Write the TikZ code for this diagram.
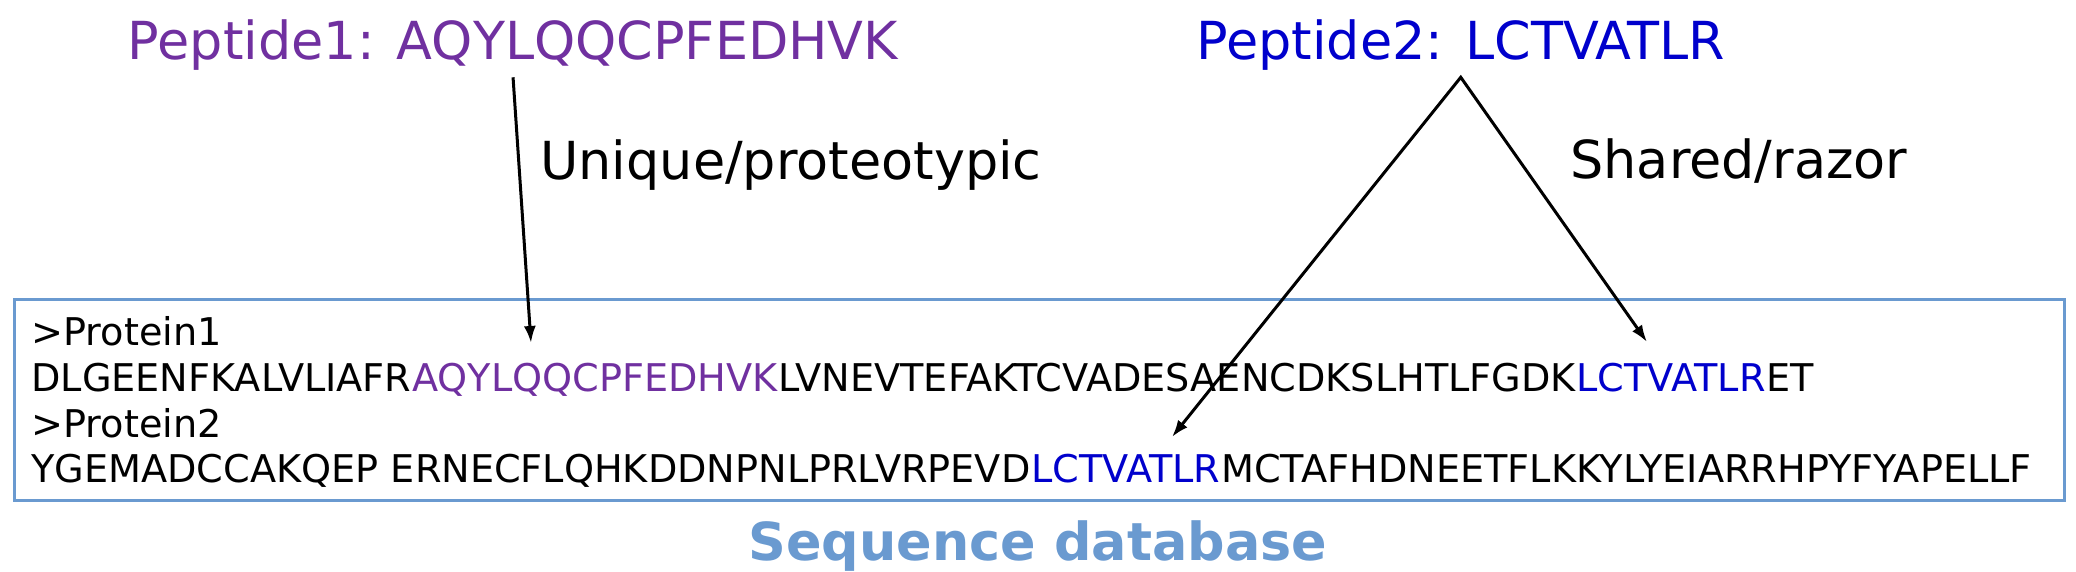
\documentclass[tikz,border=0pt]{standalone}
\usepackage{fontspec}
\setmainfont{DejaVu Sans}
\usetikzlibrary{arrows.meta}
\definecolor{pepone}{HTML}{7030A0}
\definecolor{peptwo}{HTML}{0000CC}
\definecolor{dbblue}{HTML}{6A9AD0}
\begin{document}
\begin{tikzpicture}[x=0.5pt,y=-0.5pt,
  big/.style={inner sep=0pt, anchor=base west, font=\fontsize{26.2pt}{30pt}\selectfont},
  seq/.style={inner sep=0pt, anchor=base west, font=\fontsize{19.1pt}{22pt}\selectfont},
  link/.style={line width=1.5pt, black, line join=miter},
  tip/.tip={Latex[length=8.5pt,width=6pt]}]
\useasboundingbox (0,0) rectangle (2076,572);
% database box
\node[draw=dbblue, line width=1.5pt, minimum width=1025pt, minimum height=100.5pt,
      anchor=north west, inner sep=0pt] (db) at (13,298) {};
\node[font=\bfseries\fontsize{26.2pt}{30pt}\selectfont, text=dbblue, anchor=base, inner sep=0pt]
      (dblabel) at (1038,560) {Sequence database};
% peptide labels
\node[big, text=pepone] (pep1) at (127.5,60) {Peptide1: AQYLQQCPFEDHVK};
\node[big, text=peptwo] (pep2) at (1196,60) {Peptide2: LCTVATLR};
\node[big] (uniq) at (540,180) {Unique/proteotypic};
\node[big] (shared) at (1570,179) {Shared/razor};
% sequences
\node[seq] (l1) at (31,345) {>Protein1};
\node[seq] (l2a) at (31,391) {DLGEENFKALVLIAFR};
\node[seq, text=pepone] (l2b) at (l2a.base east) {AQYLQQCPFEDHVK};
\node[seq] (l2c) at (l2b.base east) {LVNEVTEFAKTCVADESAENCDKSLHTLFGDK};
\node[seq, text=peptwo] (l2d) at (l2c.base east) {LCTVATLR};
\node[seq] (l2e) at (l2d.base east) {ET};
\node[seq] (l3) at (31,437) {>Protein2};
\node[seq] (l4a) at (31,482) {YGEMADCCAKQEP ERNECFLQHKDDNPNLPRLVRPEVD};
\node[seq, text=peptwo] (l4b) at (l4a.base east) {LCTVATLR};
\node[seq] (l4c) at (l4b.base east) {MCTAFHDNEETFLKKYLYEIARRHPYFYAPELLF};
% arrow ends
\coordinate (t1) at (531,343);
\coordinate (t2) at (1172,437);
\coordinate (t3) at (1647,342);
\coordinate (apex) at ([yshift=-3pt]pep2.south);
\draw[link, -tip] ([yshift=-3pt]pep1.south) -- (t1);
\draw[link, tip-tip] (t2) -- (apex) -- (t3);
\end{tikzpicture}
\end{document}
